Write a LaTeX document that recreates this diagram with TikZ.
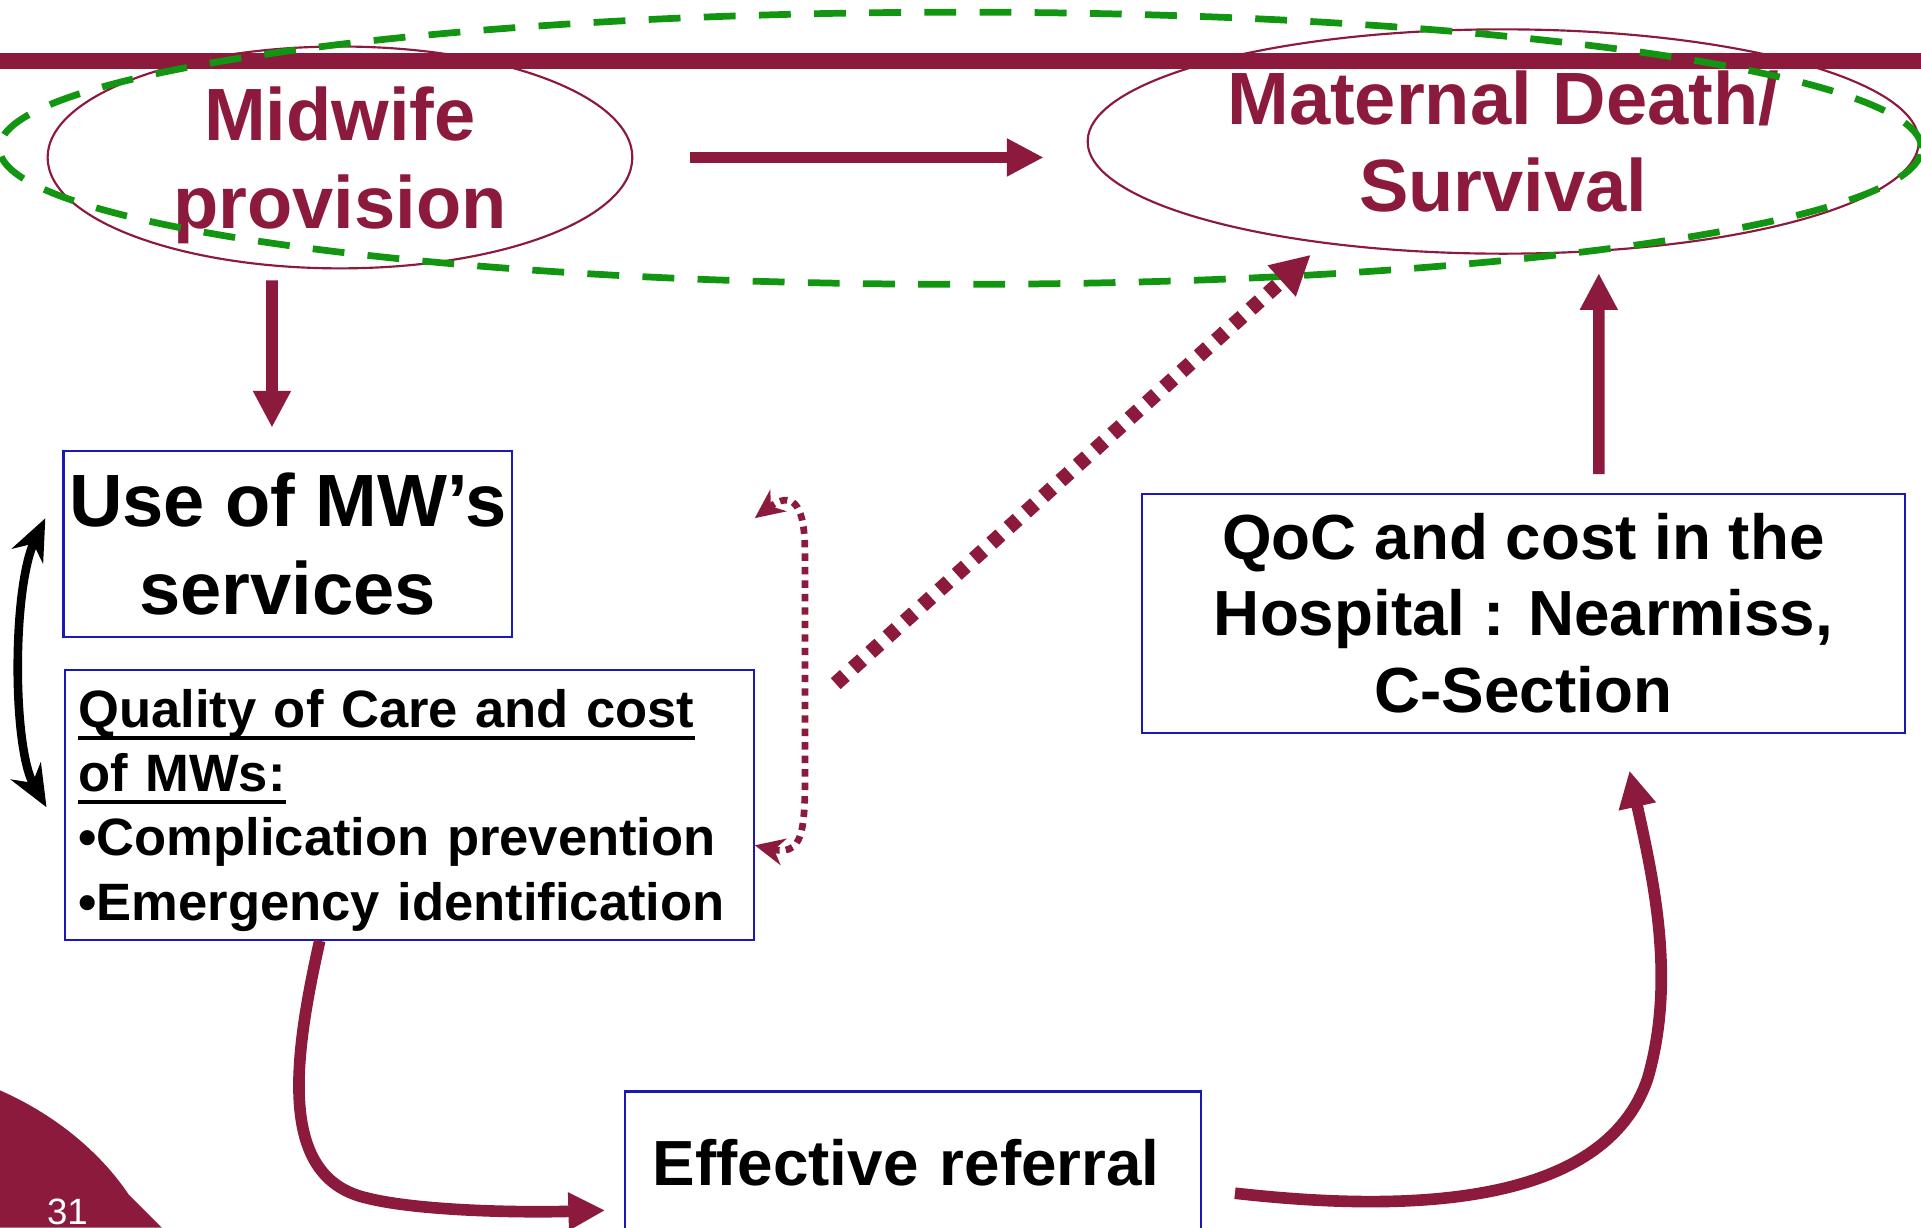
\documentclass[tikz,border=0pt]{standalone}
\usepackage{fontspec}
\setmainfont{Liberation Sans}
\usetikzlibrary{arrows.meta, shapes.geometric}
\definecolor{mwred}{RGB}{140,26,60}
\definecolor{mwgreen}{RGB}{18,150,18}
\definecolor{mwblue}{RGB}{25,25,185}
\newcommand{\mwul}[1]{\leavevmode\setbox0\hbox{#1}\rlap{\rule[-0.24em]{\wd0}{0.9pt}}\box0}

\begin{document}
\begin{tikzpicture}[x=0.01cm, y=-0.01cm,
        oval/.style={draw=mwred, line width=0.5pt, ellipse, inner sep=0pt, text=mwred, align=center,
            font=\bfseries\fontsize{17.2}{20.3}\selectfont},
        box/.style={draw=mwblue, line width=0.5pt, inner sep=0pt, font=\bfseries},
        arr/.style={mwred, line width=0.095cm, -{Triangle[length=0.3cm, width=0.29cm]}}]
        \clip (0,0) rectangle (1568,1002);
        \node[oval, minimum width=4.77cm, minimum height=1.81cm, text depth=0pt] (mw) at (277.5,128.5) {Midwife\\provision};
        \node[oval, minimum width=6.78cm, minimum height=1.83cm] (mds) at (1227,115.5) {Maternal Death/\\Survival};
        \draw[mwred, line width=0.128cm] (0,49.5) -- (1568,49.5);
        \draw[mwgreen, line width=0.055cm, dash pattern=on 0.26cm off 0.19cm] (784,121) ellipse [x radius=7.84cm, y radius=1.11cm];

        \node[box, minimum width=3.66cm, minimum height=1.52cm, align=center,
            font=\bfseries\fontsize{17.2}{20.3}\selectfont] (use) at (235,444) {Use of MW’s\\services};
        \node[box, anchor=north west, text width=5.4cm, inner xsep=0.11cm, minimum height=2.2cm, text height=0.4cm, align=left,
            font=\bfseries\fontsize{12.2}{14.9}\selectfont] (qual) at (52,546)
            {\mwul{Quality of Care and cost}\\\mwul{of MWs:}\\•Complication prevention\\•Emergency identification};
        \node[box, minimum width=6.23cm, minimum height=1.95cm, align=center,
            font=\bfseries\fontsize{14.8}{17.8}\selectfont] (qoc) at (1243.5,500.5) {QoC and cost in the\\Hospital : Nearmiss,\\C-Section};
        \node[box, anchor=north, text width=4.24cm, inner xsep=0.23cm, minimum height=1.16cm, align=left,
            font=\bfseries\fontsize{14.8}{17.8}\selectfont] (eff) at (745,890) {Effective referral};

        \draw[arr, shorten <=0.46cm, shorten >=0.35cm] (mw.east) -- (mw.east -| mds.west);
        \draw[arr, shorten <=0.09cm, shorten >=0.18cm] ([xshift=-0.555cm]mw.south) -- ([xshift=-0.13cm]use.north);
        \draw[arr, shorten <=0.15cm, shorten >=0.15cm] ([xshift=0.615cm]qoc.north) -- ([xshift=0.78cm]mds.south);
        \draw[arr] ([xshift=-0.73cm]qual.south) .. controls (238,870) and (228,962) .. (300,978)
            .. controls (340,988) and (420,990) .. ([xshift=-0.15cm,yshift=-0.39cm]eff.west);
        \draw[arr] ([xshift=0.27cm,yshift=-0.25cm]eff.east) .. controls (1150,990) and (1310,985) .. (1345,880)
            .. controls (1368,800) and (1350,720) .. ([xshift=0.865cm,yshift=-0.3cm]qoc.south);
        \draw[mwred, line width=0.055cm, dash pattern=on 0.06cm off 0.05cm,
            {Stealth[length=0.24cm, width=0.22cm]}-{Stealth[length=0.24cm, width=0.22cm]}]
            ([yshift=-0.33cm]qual.east) .. controls (660,700) and (657,670) .. (657,600) -- (657,450)
            .. controls (657,400) and (640,405) .. ([yshift=1.23cm]qual.north east);
        \draw[mwred, line width=0.12cm, dash pattern=on 0.1cm off 0.09cm, -{Triangle[length=0.32cm, width=0.32cm]}]
            ([xshift=0.66cm,yshift=-0.12cm]qual.north east) -- ([xshift=-1.57cm]mds.south);
        \draw[line width=0.07cm, {Stealth[length=0.34cm, width=0.28cm]}-{Stealth[length=0.34cm, width=0.28cm]}]
            ([xshift=-0.14cm,yshift=0.21cm]use.west) .. controls (10,480) and (10,610) .. ([xshift=-0.14cm,yshift=-0.02cm]qual.west);

        \fill[mwred] (0,890) .. controls (50,912) and (85,945) .. (105,975) -- (132,1002) -- (0,1002) -- cycle;
        \node[text=white, font=\fontsize{8.5}{10}\selectfont] (pg) at (55,989) {31};
\end{tikzpicture}
\end{document}
